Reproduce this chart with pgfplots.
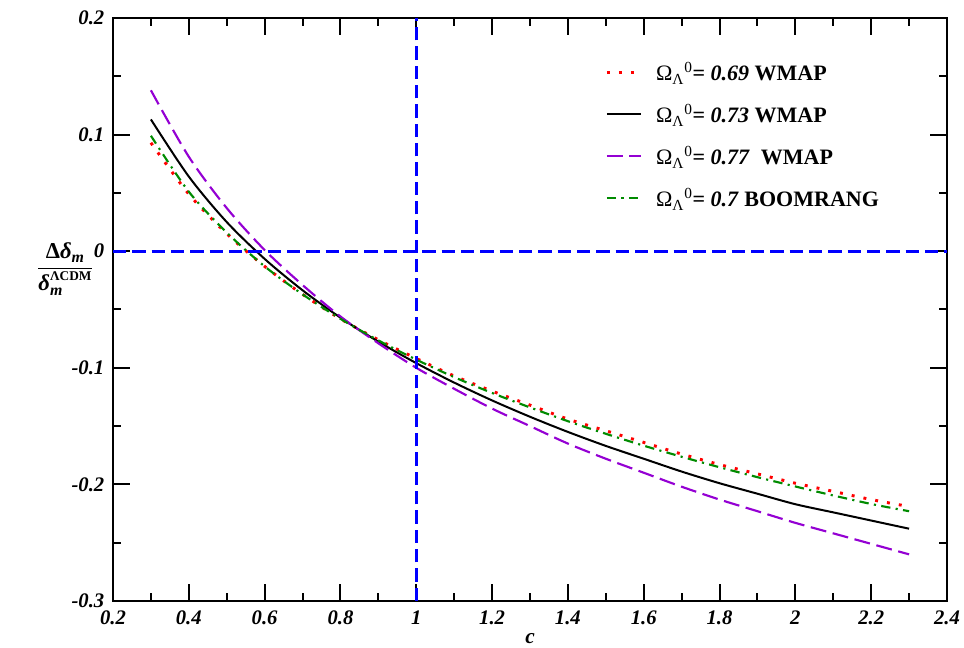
\documentclass[border=0pt]{standalone}
\usepackage{amsmath}
\usepackage{pgfplots}
\pgfplotsset{compat=1.18}
\usepackage{fontspec}
\setmainfont{Liberation Serif}
\definecolor{gviolet}{RGB}{148,0,211}
\definecolor{ggreen}{RGB}{0,139,0}
\definecolor{gblue}{RGB}{0,0,255}
\definecolor{gred}{RGB}{255,0,0}
\begin{document}
\begin{tikzpicture}[x=1pt,y=1pt]
\path[use as bounding box] (0,0) rectangle (723,486);
\begin{axis}[
  name=ax,
  at={(84.75pt,35.25pt)}, anchor=south west,
  scale only axis, width=625.5pt, height=437.25pt,
  xmin=0.2, xmax=2.4, ymin=-0.3, ymax=0.2,
  xtick={0.2,0.4,0.6,0.8,1,1.2,1.4,1.6,1.8,2,2.2,2.4},
  xticklabels={0.2,0.4,0.6,0.8,1,1.2,1.4,1.6,1.8,2,2.2,2.4},
  ytick={-0.3,-0.2,-0.1,0,0.1,0.2},
  yticklabels={-0.3,-0.2,-0.1,0,0.1,0.2},
  minor x tick num=1, minor y tick num=1,
  tick align=inside,
  major tick length=12.5pt, minor tick length=6pt,
  axis line style={line width=2pt},
  every tick/.style={line width=1.5pt, black},
  tick label style={font=\fontsize{15.5}{18}\selectfont\bfseries\itshape},
  xticklabel style={yshift=-4pt},
  yticklabel style={xshift=-3pt},
  /pgf/number format/assume math mode=true,
  legend style={at={(rel axis cs:0.590,0.927)}, anchor=north west, draw=none, fill=none,
     font=\fontsize{16.5}{19}\selectfont, row sep=14pt, inner sep=0pt,
     nodes={inner sep=1pt}},
  legend cell align=left,
  legend image code/.code={\draw[#1] (0pt,0pt) -- (26pt,0pt); \path[draw=none] (0pt,0pt) -- (36pt,0pt);},
]
\addplot[gred, smooth, line width=2.2pt, dash pattern=on 2.2pt off 6.8pt] coordinates {
(0.3,0.093) (0.4,0.049) (0.5,0.015) (0.6,-0.013) (0.7,-0.037) (0.8,-0.058)
(0.9,-0.076) (1.0,-0.092) (1.1,-0.107) (1.2,-0.120) (1.3,-0.132) (1.4,-0.144)
(1.5,-0.154) (1.6,-0.164) (1.7,-0.174) (1.8,-0.183) (1.9,-0.191) (2.0,-0.199)
(2.1,-0.206) (2.2,-0.213) (2.3,-0.219)};
\addlegendentry{Ω\textsubscript{Λ}\textsuperscript{0}\textbf{= \textit{0.69} WMAP}}
\addplot[black, smooth, line width=1.5pt] coordinates {
(0.3,0.113) (0.4,0.064) (0.5,0.025) (0.6,-0.0066) (0.7,-0.0335) (0.8,-0.057)
(0.9,-0.0776) (1.0,-0.096) (1.1,-0.1127) (1.2,-0.128) (1.3,-0.142) (1.4,-0.155)
(1.5,-0.167) (1.6,-0.178) (1.7,-0.189) (1.8,-0.199) (1.9,-0.208) (2.0,-0.217)
(2.1,-0.224) (2.2,-0.231) (2.3,-0.238)};
\addlegendentry{Ω\textsubscript{Λ}\textsuperscript{0}\textbf{= \textit{0.73} WMAP}}
\addplot[gviolet, smooth, line width=1.6pt, dash pattern=on 12pt off 5pt] coordinates {
(0.3,0.138) (0.4,0.081) (0.5,0.037) (0.6,0.001) (0.7,-0.029) (0.8,-0.056)
(0.9,-0.079) (1.0,-0.100) (1.1,-0.118) (1.2,-0.135) (1.3,-0.150) (1.4,-0.165)
(1.5,-0.178) (1.6,-0.190) (1.7,-0.202) (1.8,-0.213) (1.9,-0.223) (2.0,-0.233)
(2.1,-0.242) (2.2,-0.251) (2.3,-0.260)};
\addlegendentry{Ω\textsubscript{Λ}\textsuperscript{0}\textbf{= \textit{0.77}\ \ WMAP}}
\addplot[ggreen, smooth, line width=1.6pt, dash pattern=on 7pt off 4pt on 1.6pt off 4pt] coordinates {
(0.3,0.099) (0.4,0.051) (0.5,0.016) (0.6,-0.013) (0.7,-0.037) (0.8,-0.058)
(0.9,-0.0765) (1.0,-0.093) (1.1,-0.108) (1.2,-0.1216) (1.3,-0.134) (1.4,-0.1458)
(1.5,-0.1566) (1.6,-0.1668) (1.7,-0.1763) (1.8,-0.1853) (1.9,-0.1938) (2.0,-0.2018)
(2.1,-0.2095) (2.2,-0.2168) (2.3,-0.223)};
\addlegendentry{Ω\textsubscript{Λ}\textsuperscript{0}\textbf{= \textit{0.7} BOOMRANG}}
\addplot[gblue, line width=2pt, dash pattern=on 10pt off 4.5pt, forget plot] coordinates {(0.2,0) (2.4,0)};
\addplot[gblue, line width=2pt, dash pattern=on 10pt off 4.5pt, forget plot] coordinates {(1,-0.3) (1,0.2)};
\end{axis}
\node[font=\fontsize{16}{18}\selectfont\bfseries\itshape] at (397.5,7) {c};
\node[font=\fontsize{17}{20}\selectfont] at (49,284) {$\dfrac{\text{\bfseries Δ\itshape δ}_{\text{\bfseries\itshape m}}}{\text{\bfseries\itshape δ}_{\text{\bfseries\itshape m}}^{\mbox{\fontsize{10}{12}\selectfont\bfseries ΛCDM}}}$};
\end{tikzpicture}
\end{document}
